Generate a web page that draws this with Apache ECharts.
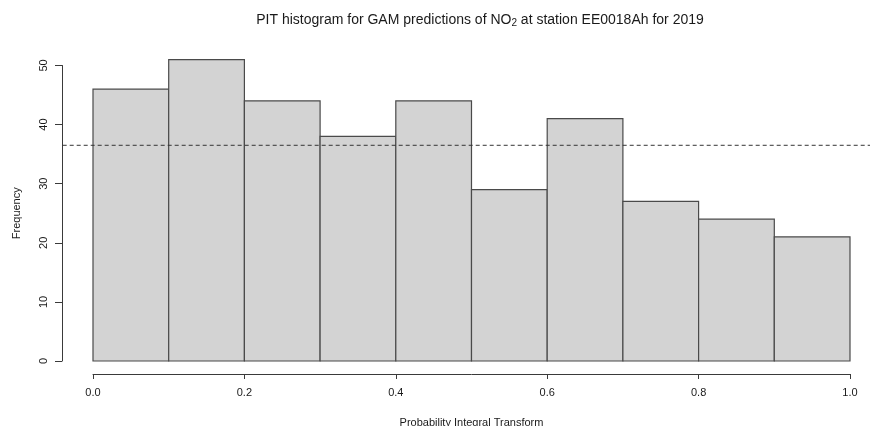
<!DOCTYPE html>
<html>
<head>
<meta charset="utf-8">
<script src="https://cdn.jsdelivr.net/npm/echarts@6/dist/echarts.min.js"></script>
<style>
  html, body { margin: 0; padding: 0; background: #fff; }
  #chart { width: 870px; height: 426px; }
</style>
</head>
<body>
<div id="chart"></div>
<script>
// PIT histogram bins (left edge, right edge) and counts
const binStarts = [0.0, 0.1, 0.2, 0.3, 0.4, 0.5, 0.6, 0.7, 0.8, 0.9];
const binEnds   = [0.1, 0.2, 0.3, 0.4, 0.5, 0.6, 0.7, 0.8, 0.9, 1.0];
const counts    = [46, 51, 44, 38, 44, 29, 41, 27, 24, 21];
const xTicks    = [0.0, 0.2, 0.4, 0.6, 0.8, 1.0];
const yTicks    = [0, 10, 20, 30, 40, 50];

// Expected count per bin under a uniform PIT
const total = counts.reduce((a, b) => a + b, 0);
const expected = total / counts.length;

const FONT = 'Liberation Sans, Arial, sans-serif';
const AXIS = '#3a3a3a';
const TEXT = '#1a1a1a';

const chart = echarts.init(document.getElementById('chart'), null, { renderer: 'canvas' });

const barData = binStarts.map((s, i) => [s, binEnds[i], counts[i]]);

chart.setOption({
  animation: false,
  backgroundColor: '#ffffff',
  title: {
    text: 'PIT histogram for GAM predictions of NO{sub|2} at station EE0018Ah for 2019',
    left: 475,
    textAlign: 'center',
    top: 7,
    textStyle: {
      fontFamily: FONT, fontSize: 14, fontWeight: 'normal', color: TEXT,
      rich: { sub: { fontFamily: FONT, fontSize: 10, color: TEXT, verticalAlign: 'bottom', padding: [6, 0, 0, 0] } }
    }
  },
  grid: [
    { left: 93, right: 20, top: 65.5, bottom: 65, containLabel: false, outerBoundsMode: 'none' },
    { left: 62.7, width: 817.3, top: 65.5, bottom: 65, containLabel: false, outerBoundsMode: 'none' }
  ],
  xAxis: [
    {
      type: 'value', gridIndex: 0, min: 0, max: 1, interval: 0.2,
      offset: 13,
      axisLine: { show: true, onZero: false, lineStyle: { color: AXIS, width: 1 } },
      axisTick: { show: true, length: 5, lineStyle: { color: AXIS } },
      splitLine: { show: false },
      axisLabel: {
        fontFamily: FONT, fontSize: 11, color: TEXT, margin: 13,
        formatter: v => xTicks.some(t => Math.abs(t - v) < 1e-9) ? v.toFixed(1) : ''
      },
      name: 'Probability Integral Transform',
      nameLocation: 'middle', nameGap: 43,
      nameTextStyle: { fontFamily: FONT, fontSize: 11, color: TEXT }
    },
    { type: 'value', gridIndex: 1, min: -0.04, max: 1.04, show: false }
  ],
  yAxis: [
    {
      type: 'value', gridIndex: 0, min: 0, max: 50, interval: 10,
      offset: 31,
      axisLine: { show: true, onZero: false, lineStyle: { color: AXIS, width: 1 } },
      axisTick: { show: true, length: 7, lineStyle: { color: AXIS } },
      splitLine: { show: false },
      axisLabel: {
        fontFamily: FONT, fontSize: 11, color: TEXT, rotate: 90, margin: 13,
        formatter: v => yTicks.includes(v) ? String(v) : ''
      },
      name: 'Frequency',
      nameLocation: 'middle', nameRotate: 90, nameGap: 40,
      nameTextStyle: { fontFamily: FONT, fontSize: 11, color: TEXT }
    },
    { type: 'value', gridIndex: 1, min: 0, max: 50, show: false }
  ],
  series: [
    {
      type: 'custom',
      xAxisIndex: 0, yAxisIndex: 0,
      data: barData,
      renderItem: function (params, api) {
        const p0 = api.coord([api.value(0), api.value(2)]);
        const p1 = api.coord([api.value(1), 0]);
        return {
          type: 'rect',
          shape: { x: p0[0], y: p0[1], width: p1[0] - p0[0], height: p1[1] - p0[1] },
          style: { fill: '#d3d3d3', stroke: '#4a4a4a', lineWidth: 1.2 }
        };
      }
    },
    {
      type: 'line',
      xAxisIndex: 1, yAxisIndex: 1,
      data: [[-0.04, expected], [1.04, expected]],
      symbol: 'none',
      clip: false,
      lineStyle: { color: '#333', width: 1, type: [4, 3] }
    }
  ]
});
</script>
</body>
</html>
